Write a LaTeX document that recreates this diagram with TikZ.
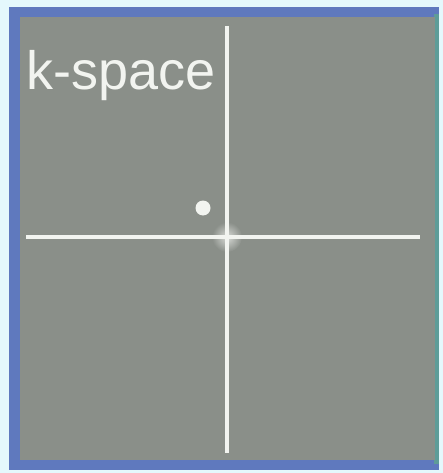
\documentclass[tikz,border=0pt]{standalone}
\usepackage{fontspec}
\setmainfont{Liberation Sans}
\usepackage{xcolor}
\definecolor{cEdge}{HTML}{E4F8FC}
\definecolor{cFrame}{HTML}{5F79BE}
\definecolor{cFrameR}{HTML}{5E9C98}
\definecolor{cField}{HTML}{8A8F89}
\definecolor{cLine}{HTML}{F2F4F0}
\usetikzlibrary{positioning,calc}
\tikzset{
  axis-line/.style={draw=cLine,line width=3.2pt},
  dot-mark/.style={fill=cLine,draw=none},
  label-text/.style={text=cLine,font=\fontsize{54}{54}\selectfont,inner sep=0pt,anchor=base west},
}
\begin{document}
\begin{tikzpicture}[x=1pt,y=-1pt]
  % outer margin and frame
  \fill[cEdge] (0,0) rectangle (443,473);
  \fill[cFrame] (9,7) rectangle (439,470);
  \fill[cFrameR] (434,14) rectangle (439,464);
  \fill[cField] (20,17) rectangle (435,460);
  \useasboundingbox (0,0) rectangle (443,473);
  % glow at the origin
  \shade[inner color=cLine!75!cField,outer color=cField] (227,237) circle (15);
  % axes
  \coordinate (top) at (227,26);
  \coordinate (bottom) at (227,453);
  \coordinate (left) at (26,237);
  \coordinate (right) at (420,237);
  \draw[axis-line] (top) -- (bottom);
  \draw[axis-line] (left) -- (right);
  % sample point
  \fill[dot-mark] (203,208) circle (7.5);
  \node[label-text] (title) at (26,90) {k-space};
\end{tikzpicture}
\end{document}
